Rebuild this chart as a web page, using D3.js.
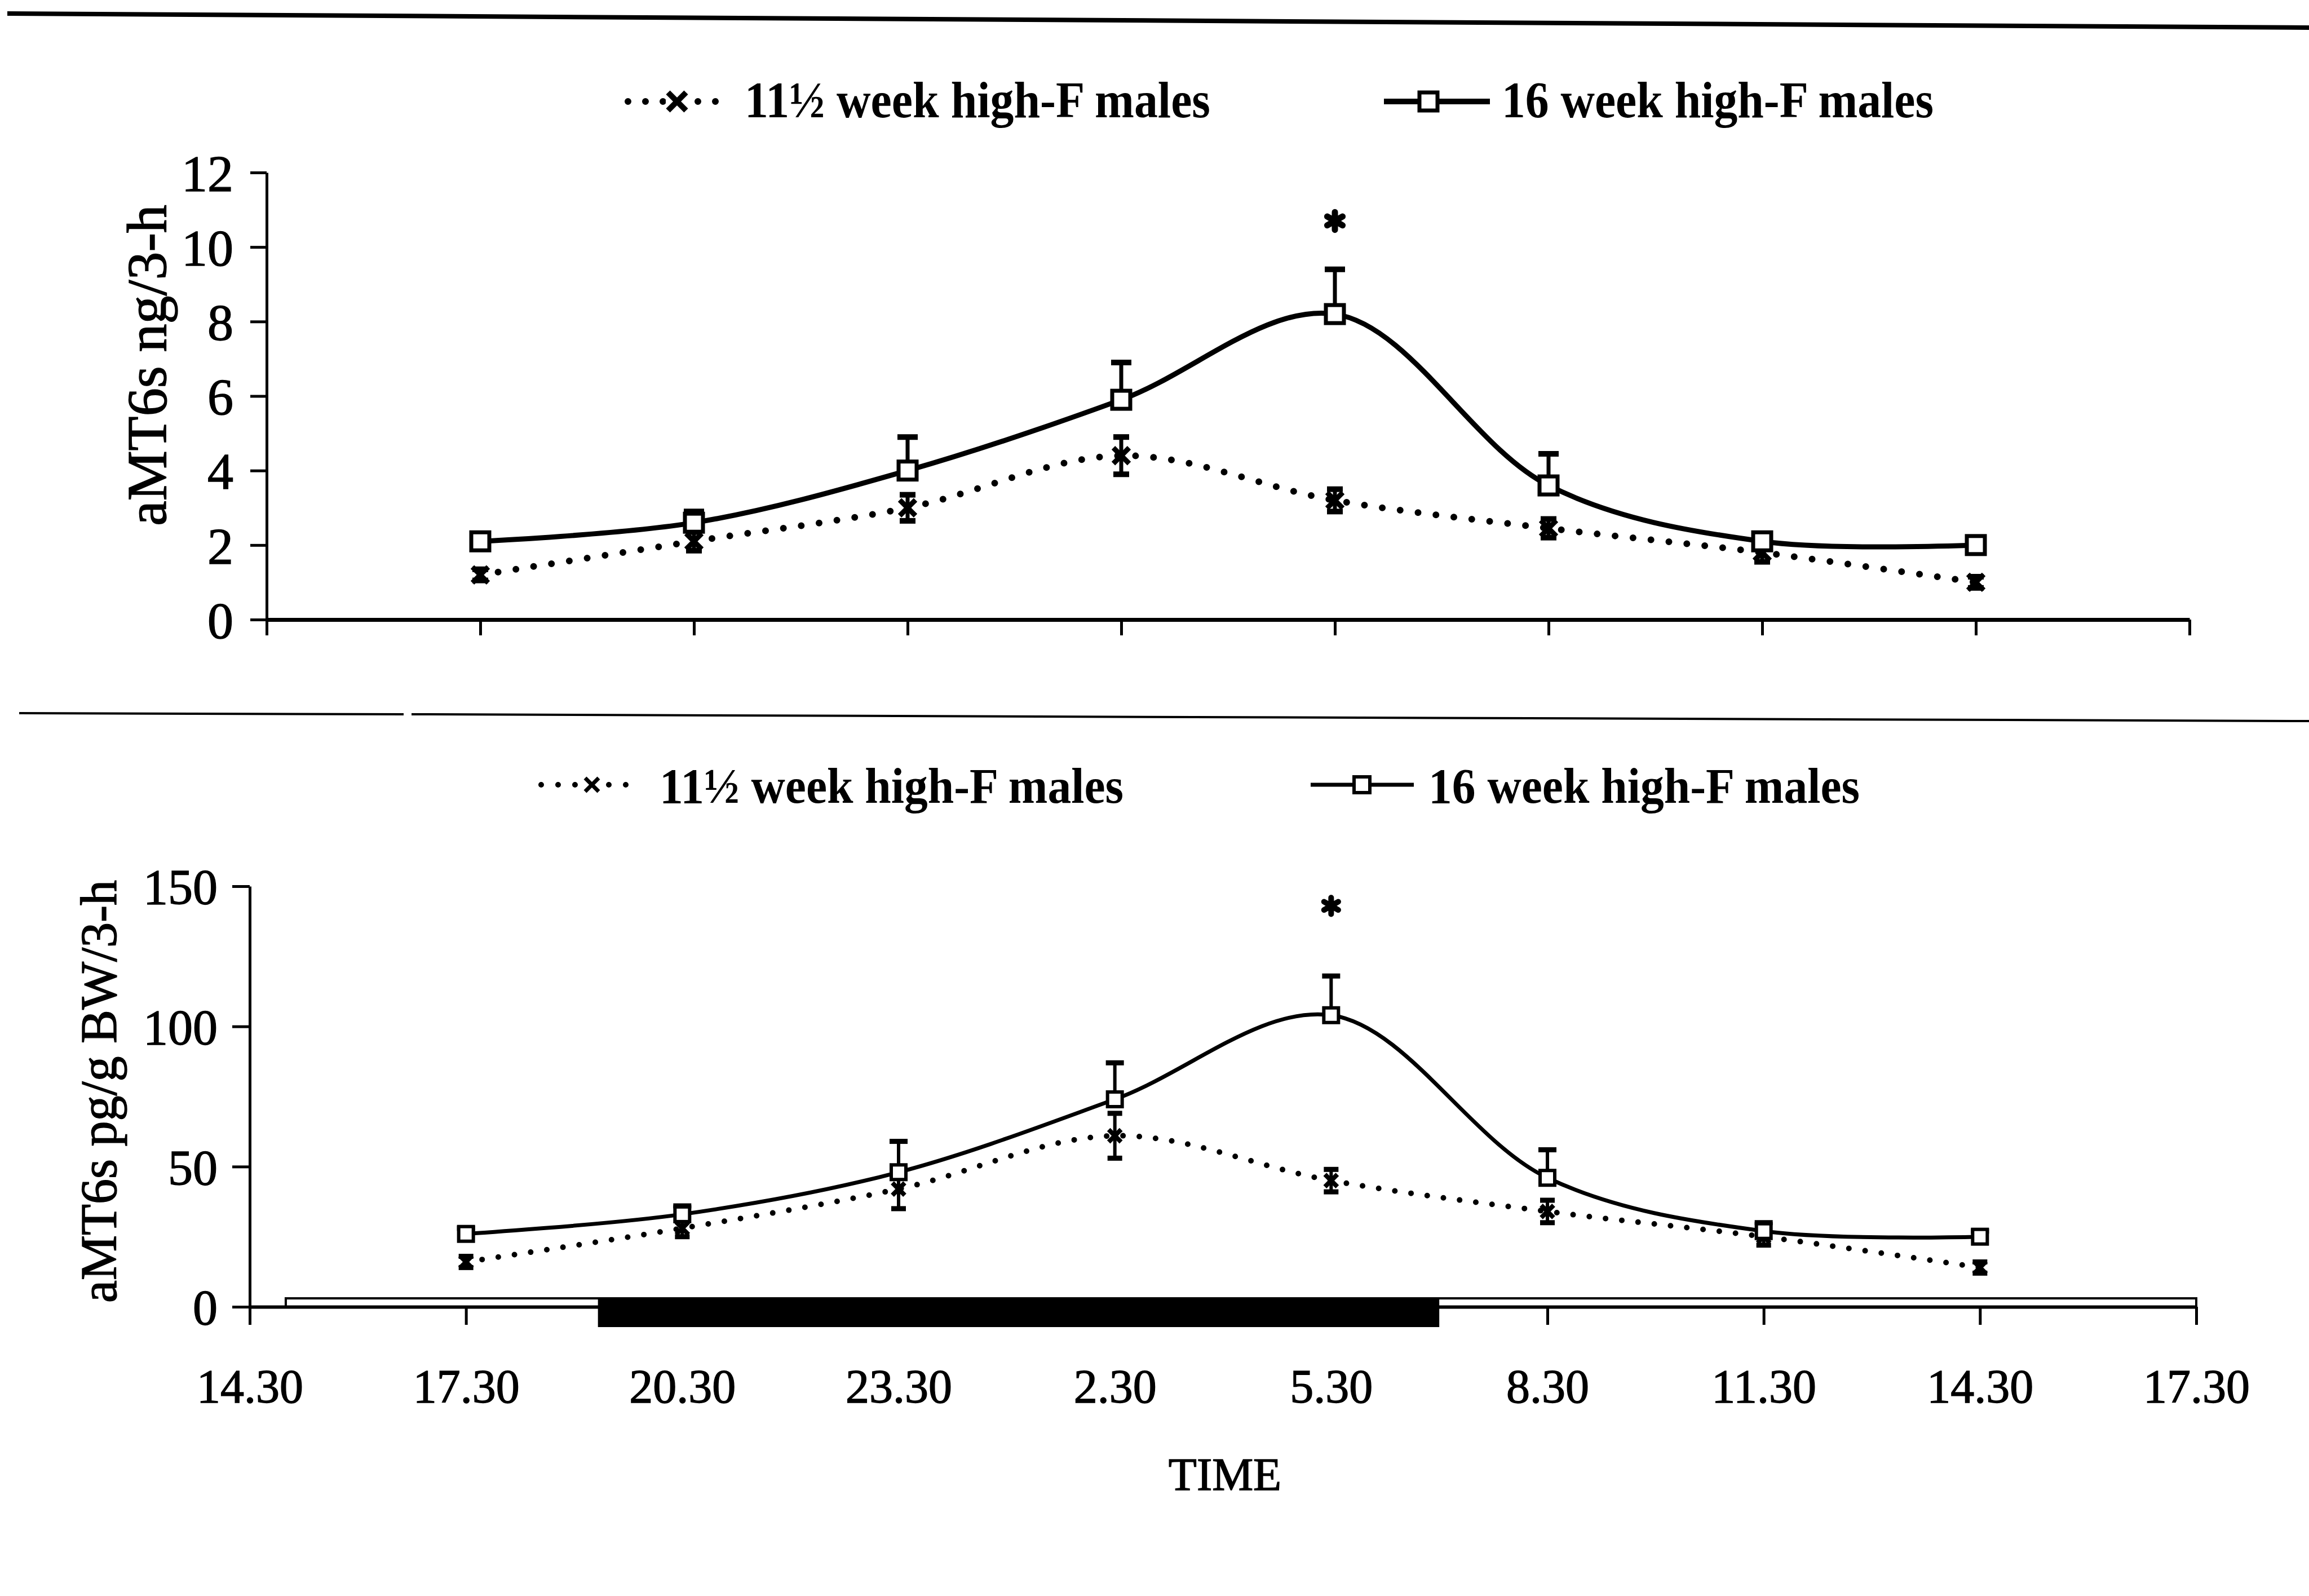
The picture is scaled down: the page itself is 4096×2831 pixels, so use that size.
<!DOCTYPE html>
<html>
<head>
<meta charset="utf-8">
<script src="https://cdn.jsdelivr.net/npm/d3@7"></script>
<style>
  html, body { margin: 0; padding: 0; background: #fff; }
  svg { display: block; }
  text { font-family: "Liberation Serif", "Times New Roman", serif; fill: #000; }
  text.heavy { stroke: #000; stroke-width: 1.4px; }
</style>
</head>
<body>
<svg id="chart" width="4096" height="2831"></svg>
<script>
// ---- data ----
const sampleTimes = ["17.30", "20.30", "23.30", "2.30", "5.30", "8.30", "11.30", "14.30"];
const sampleElapsed = [3, 6, 9, 12, 15, 18, 21, 24];           // hours after 14.30
const axisTimes = ["14.30", "17.30", "20.30", "23.30", "2.30", "5.30", "8.30", "11.30", "14.30", "17.30"];
const axisElapsed = [0, 3, 6, 9, 12, 15, 18, 21, 24, 27];

const seriesNames = ["11\u00BD week high-F males", "16 week high-F males"];

// aMT6s ng/3-h
const ng11 = [1.2, 2.1, 3.0, 4.4, 3.2, 2.45, 1.8, 1.0];
const ng11Err = [0.15, 0.25, 0.35, 0.5, 0.3, 0.25, 0.25, 0.15];
const ng16 = [2.1, 2.6, 4.0, 5.9, 8.2, 3.6, 2.1, 2.0];
const ng16Err = [0, 0.3, 0.9, 1.0, 1.2, 0.85, 0.15, 0];
const ngTicks = [0, 2, 4, 6, 8, 10, 12];
const ngStar = { elapsed: 15, value: 10.7 };

// aMT6s pg/g BW/3-h
const pg11 = [16, 28, 42, 61, 45, 34, 25, 14];
const pg11Err = [2, 3, 7, 8, 4, 4, 3, 2];
const pg16 = [26, 33, 48, 74, 104, 46, 27, 25];
const pg16Err = [2, 3, 11, 13, 14, 10, 3, 2];
const pgTicks = [0, 50, 100, 150];
const pgStar = { elapsed: 15, value: 143 };

// light/dark schedule (clock hours)
const lightStartClock = 15.0;
const lightsOffClock = 19.33;
const lightsOnClock = 7.0;
const toElapsed = c => (c - 14.5 + 24) % 24;

// ---- drawing ----
const svg = d3.select("#chart");

// rules separating the panels
svg.append("line").attr("x1", 13).attr("y1", 24).attr("x2", 4096).attr("y2", 49)
  .attr("stroke", "#000").attr("stroke-width", 8);
svg.append("line").attr("x1", 34).attr("y1", 1265).attr("x2", 716).attr("y2", 1267)
  .attr("stroke", "#000").attr("stroke-width", 4);
svg.append("line").attr("x1", 730).attr("y1", 1267).attr("x2", 4096).attr("y2", 1279)
  .attr("stroke", "#000").attr("stroke-width", 4);

function xMarker(g, x, y, s, w) {
  g.append("path")
    .attr("d", `M${x - s},${y - s}L${x + s},${y + s}M${x - s},${y + s}L${x + s},${y - s}`)
    .attr("stroke", "#000").attr("stroke-width", w).attr("fill", "none");
}
function squareMarker(g, x, y, s, w) {
  g.append("rect").attr("x", x - s / 2).attr("y", y - s / 2).attr("width", s).attr("height", s)
    .attr("fill", "#fff").attr("stroke", "#000").attr("stroke-width", w);
}

function legend(cfg) {
  const g = svg.append("g");
  // dotted series key
  g.append("line").attr("x1", cfg.dotX0).attr("x2", cfg.dotX1).attr("y1", cfg.symY).attr("y2", cfg.symY)
    .attr("stroke", "#000").attr("stroke-width", cfg.dotW).attr("stroke-linecap", "round")
    .attr("stroke-dasharray", `0 ${cfg.dotGap}`);
  g.append("rect").attr("x", cfg.xMark - cfg.xSize - 4).attr("y", cfg.symY - cfg.xSize - 4)
    .attr("width", 2 * cfg.xSize + 8).attr("height", 2 * cfg.xSize + 8).attr("fill", "#fff");
  xMarker(g, cfg.xMark, cfg.symY, cfg.xSize, cfg.xW);
  g.append("text").attr("x", cfg.t1x).attr("y", cfg.baseY).attr("font-size", cfg.fs)
    .attr("font-weight", "bold").attr("textLength", cfg.t1w).attr("lengthAdjust", "spacingAndGlyphs")
    .text(seriesNames[0]);
  // solid series key
  g.append("line").attr("x1", cfg.lineX0).attr("x2", cfg.lineX1).attr("y1", cfg.symY).attr("y2", cfg.symY)
    .attr("stroke", "#000").attr("stroke-width", cfg.lineW);
  squareMarker(g, cfg.sqX, cfg.symY, cfg.sqS, cfg.sqW);
  g.append("text").attr("x", cfg.t2x).attr("y", cfg.baseY).attr("font-size", cfg.fs)
    .attr("font-weight", "bold").attr("textLength", cfg.t2w).attr("lengthAdjust", "spacingAndGlyphs")
    .text(seriesNames[1]);
}

legend({ symY: 180, baseY: 208, fs: 90,
  dotX0: 1114, dotX1: 1272, dotGap: 31, dotW: 12, xMark: 1201, xSize: 16, xW: 10,
  t1x: 1321, t1w: 826,
  lineX0: 2455, lineX1: 2643, lineW: 10, sqX: 2534, sqS: 32, sqW: 7,
  t2x: 2664, t2w: 766 });

legend({ symY: 1392, baseY: 1424, fs: 88,
  dotX0: 960, dotX1: 1116, dotGap: 30, dotW: 10, xMark: 1050, xSize: 12, xW: 7,
  t1x: 1170, t1w: 823,
  lineX0: 2325, lineX1: 2508, lineW: 7, sqX: 2416, sqS: 28, sqW: 6,
  t2x: 2534, t2w: 765 });

function panel(cfg) {
  const g = svg.append("g");
  const x = d3.scaleLinear().domain([0, 27]).range(cfg.xRange);
  const y = d3.scaleLinear().domain(cfg.yDomain).range(cfg.yRange);

  if (cfg.lightBar) {
    const top = y(0) - 15;
    g.append("rect").attr("x", x(toElapsed(lightStartClock))).attr("y", top)
      .attr("width", x(27) - x(toElapsed(lightStartClock))).attr("height", 15)
      .attr("fill", "#fff").attr("stroke", "#000").attr("stroke-width", 4);
    g.append("rect").attr("x", x(toElapsed(lightsOffClock))).attr("y", top)
      .attr("width", x(toElapsed(lightsOnClock)) - x(toElapsed(lightsOffClock)))
      .attr("height", 15 + 36).attr("fill", "#000");
  }

  // y axis
  const ya = g.append("g").attr("transform", `translate(${cfg.xRange[0]},0)`)
    .call(d3.axisLeft(y).tickValues(cfg.yTicks).tickSize(cfg.yTickLen).tickSizeOuter(0)
      .tickPadding(cfg.yPad).tickFormat(d3.format("d")));
  ya.select(".domain").attr("stroke-width", cfg.yAxisW);
  ya.selectAll(".tick line").attr("stroke-width", cfg.tickW);
  ya.selectAll(".tick text").attr("font-size", cfg.yFs).attr("font-family", "Liberation Serif")
    .attr("dy", "0.35em").attr("class", "heavy");

  // x axis
  const xa = g.append("g").attr("transform", `translate(0,${y(0)})`)
    .call(d3.axisBottom(x).tickValues(axisElapsed).tickSize(cfg.xTickLen).tickSizeOuter(0)
      .tickPadding(cfg.xPad)
      .tickFormat((d, i) => cfg.xLabels ? axisTimes[i] : ""));
  xa.select(".domain").attr("stroke-width", cfg.xAxisW);
  xa.selectAll(".tick line").attr("stroke-width", cfg.tickW);
  xa.selectAll(".tick text").attr("font-size", cfg.xFs).attr("font-family", "Liberation Serif")
    .attr("class", "heavy");

  // y axis title
  g.append("text").attr("class", "heavy")
    .attr("transform", `translate(${cfg.titleX},${cfg.titleY}) rotate(-90)`)
    .attr("text-anchor", "middle").attr("font-size", cfg.titleFs).text(cfg.title);

  const curve = d3.curveCatmullRom.alpha(0.5);
  const line = d3.line().x((d, i) => x(sampleElapsed[i])).y(d => y(d)).curve(curve);

  // 11½ week: dotted
  g.append("path").attr("d", line(cfg.s11)).attr("fill", "none").attr("stroke", "#000")
    .attr("stroke-width", cfg.dotW).attr("stroke-linecap", "round")
    .attr("stroke-dasharray", `0 ${cfg.dotGap}`);
  // 16 week: solid
  g.append("path").attr("d", line(cfg.s16)).attr("fill", "none").attr("stroke", "#000")
    .attr("stroke-width", cfg.lineW);

  // error bars
  cfg.s16.forEach((v, i) => {
    if (!cfg.e16[i]) return;
    const cx = x(sampleElapsed[i]);
    g.append("line").attr("x1", cx).attr("x2", cx).attr("y1", y(v)).attr("y2", y(v + cfg.e16[i]))
      .attr("stroke", "#000").attr("stroke-width", cfg.barW);
    g.append("line").attr("x1", cx - cfg.capW / 2).attr("x2", cx + cfg.capW / 2)
      .attr("y1", y(v + cfg.e16[i])).attr("y2", y(v + cfg.e16[i]))
      .attr("stroke", "#000").attr("stroke-width", cfg.capT);
  });
  cfg.s11.forEach((v, i) => {
    const cx = x(sampleElapsed[i]);
    const lo = y(v - cfg.e11[i]), hi = y(v + cfg.e11[i]);
    g.append("line").attr("x1", cx).attr("x2", cx).attr("y1", lo).attr("y2", hi)
      .attr("stroke", "#000").attr("stroke-width", cfg.barW);
    [lo, hi].forEach(yy => g.append("line").attr("x1", cx - cfg.capW2 / 2).attr("x2", cx + cfg.capW2 / 2)
      .attr("y1", yy).attr("y2", yy).attr("stroke", "#000").attr("stroke-width", cfg.capT));
  });

  // markers
  cfg.s11.forEach((v, i) => xMarker(g, x(sampleElapsed[i]), y(v), cfg.xSize, cfg.xW));
  cfg.s16.forEach((v, i) => squareMarker(g, x(sampleElapsed[i]), y(v), cfg.sqS, cfg.sqW));

  // significance mark
  g.append("path")
    .attr("transform", `translate(${x(cfg.star.elapsed)},${y(cfg.star.value)})`)
    .attr("d", d3.symbol(d3.symbolAsterisk, cfg.starSize)())
    .attr("fill", "none").attr("stroke", "#000").attr("stroke-width", cfg.starW)
    .attr("stroke-linecap", "round");
}

panel({
  xRange: [473, 3884], yDomain: [0, 12], yRange: [1099, 306],
  yTicks: ngTicks, yTickLen: 29, yPad: 30, yFs: 92, yAxisW: 5, tickW: 5,
  xTickLen: 28, xPad: 0, xLabels: false, xFs: 80, xAxisW: 7,
  title: "aMT6s ng/3-h", titleX: 294, titleY: 648, titleFs: 100,
  s11: ng11, e11: ng11Err, s16: ng16, e16: ng16Err,
  dotW: 12, dotGap: 32, lineW: 9, barW: 7, capW: 36, capW2: 28, capT: 10,
  xSize: 14, xW: 9, sqS: 32, sqW: 7,
  star: ngStar, starSize: 700, starW: 11
});

panel({
  xRange: [443, 3896], yDomain: [0, 150], yRange: [2318, 1572],
  yTicks: pgTicks, yTickLen: 31, yPad: 26, yFs: 88, yAxisW: 5, tickW: 5,
  xTickLen: 32, xPad: 78, xLabels: true, xFs: 84, xAxisW: 6,
  title: "aMT6s pg/g BW/3-h", titleX: 206, titleY: 1936, titleFs: 90,
  s11: pg11, e11: pg11Err, s16: pg16, e16: pg16Err,
  dotW: 10, dotGap: 29, lineW: 7, barW: 6, capW: 32, capW2: 26, capT: 9,
  xSize: 11, xW: 8, sqS: 26, sqW: 6,
  star: pgStar, starSize: 600, starW: 10,
  lightBar: true
});

// x axis title
svg.append("text").attr("class", "heavy").attr("x", 2173).attr("y", 2643).attr("text-anchor", "middle")
  .attr("font-size", 82).text("TIME");
</script>
</body>
</html>
